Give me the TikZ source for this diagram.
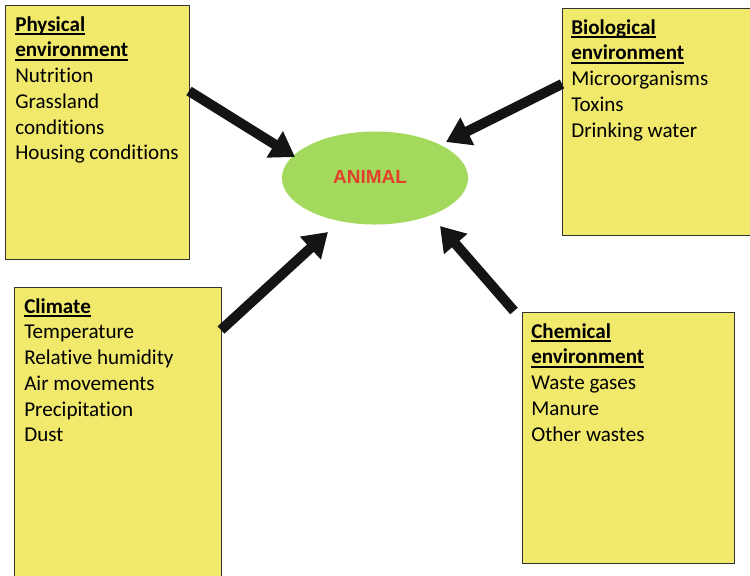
\documentclass[tikz,border=0pt]{standalone}
\usepackage{fontspec}
\setmainfont{Carlito}[Ligatures=NoCommon,RawFeature=-calt]
\newfontfamily\animalfont{Liberation Sans}
\usetikzlibrary{shapes.geometric,arrows.meta}
\definecolor{envyellow}{rgb}{0.9451,0.9137,0.4235}
\definecolor{envborder}{rgb}{0.2,0.2,0.2}
\definecolor{animalgreen}{rgb}{0.6392,0.851,0.3608}
\definecolor{animalred}{rgb}{0.8863,0.251,0.1647}
\definecolor{arrowblack}{rgb}{0.08,0.08,0.08}
\newcommand{\headline}[1]{\setbox0\hbox{\textbf{#1}}\rlap{\rule[-3pt]{\wd0}{1.3pt}}\box0}
\tikzset{
  envbox/.style={draw=envborder,fill=envyellow,line width=1pt,inner sep=0,anchor=north west},
  envlist/.style={inner sep=0,anchor=north west,align=left,font=\fontsize{15}{18.3}\selectfont},
  influence/.style={draw=arrowblack,line width=7.1pt,-{Triangle[length=17pt,width=21pt]}}
}
\begin{document}
\begin{tikzpicture}[x=0.025cm,y=-0.025cm]
\useasboundingbox (0,0) rectangle (750,575);
\clip (0,0) rectangle (750,575);
\node[envbox,minimum width=4.6cm,minimum height=6.35cm] (phys) at (5,5) {};
\node[envbox,minimum width=4.825cm,minimum height=5.675cm] (bio) at (562,8) {};
\node[envbox,minimum width=5.175cm,minimum height=7.325cm] (clim) at (14,287) {};
\node[envbox,minimum width=5.3cm,minimum height=6.275cm] (chem) at (522,312) {};
\node[envlist] (physlist) at (15,16) {\headline{Physical}\\\headline{environment}\\Nutrition\\Grassland\\conditions\\Housing conditions};
\node[envlist] (biolist) at (571,19) {\headline{Biological}\\\headline{environment}\\Microorganisms\\Toxins\\Drinking water};
\node[envlist] (climlist) at (24,298) {\headline{Climate}\\Temperature\\Relative humidity\\Air movements\\Precipitation\\Dust};
\node[envlist] (chemlist) at (531,323) {\headline{Chemical}\\\headline{environment}\\Waste gases\\Manure\\Other wastes};
\node[ellipse,fill=animalgreen,minimum width=4.65cm,minimum height=2.325cm,inner sep=0] (animal) at (375,178) {};
\node[font=\animalfont\bfseries\fontsize{13.5}{16}\selectfont,text=animalred] (animaltext) at (370,177) {ANIMAL};
\coordinate (physout) at (189,91);
\coordinate (bioout) at (562,84);
\coordinate (climout) at (221,330);
\coordinate (chemout) at (514,311);
\coordinate (physin) at (295,157);
\coordinate (bioin) at (446,142);
\coordinate (climin) at (328,232);
\coordinate (chemin) at (440,226);
\draw[influence] (physout) -- (physin);
\draw[influence] (bioout) -- (bioin);
\draw[influence] (climout) -- (climin);
\draw[influence] (chemout) -- (chemin);
\end{tikzpicture}
\end{document}
